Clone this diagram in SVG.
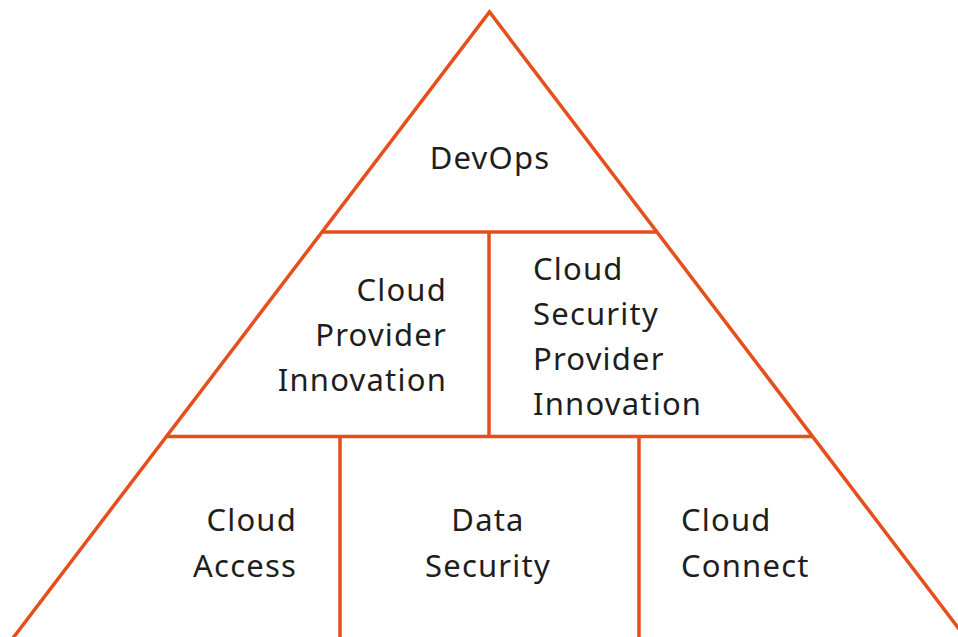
<svg xmlns="http://www.w3.org/2000/svg" width="958" height="637" viewBox="0 0 958 637">
  <style>
    .edge { fill: none; stroke: #E64E1C; stroke-width: 3.5; stroke-linecap: butt; stroke-linejoin: miter; }
    .label { font-family: "Noto Sans", "Open Sans", sans-serif; font-size: 31px; fill: #1e1e1e; letter-spacing: 1.2px; }
    .mid { text-anchor: middle; }
    .end { text-anchor: end; }
  </style>
  <rect width="958" height="637" fill="#ffffff"/>
  <g id="connectors">
    <polyline class="edge" points="11.5,640 489.5,12 967.5,640"/>
    <line class="edge" x1="322" y1="232" x2="657" y2="232"/>
    <line class="edge" x1="166" y1="436.5" x2="813" y2="436.5"/>
    <line class="edge" x1="489" y1="232" x2="489" y2="436.5"/>
    <line class="edge" x1="340" y1="436.5" x2="340" y2="640"/>
    <line class="edge" x1="639" y1="436.5" x2="639" y2="640"/>
  </g>
  <g id="devops">
    <text class="label mid" x="490" y="169">DevOps</text>
  </g>
  <g id="cloud-provider-innovation">
    <text class="label end" x="447" y="301">Cloud</text>
    <text class="label end" x="447" y="346">Provider</text>
    <text class="label end" x="447" y="391">Innovation</text>
  </g>
  <g id="cloud-security-provider-innovation">
    <text class="label" x="533" y="280">Cloud</text>
    <text class="label" x="533" y="325">Security</text>
    <text class="label" x="533" y="370">Provider</text>
    <text class="label" x="533" y="415">Innovation</text>
  </g>
  <g id="cloud-access">
    <text class="label end" x="297" y="531">Cloud</text>
    <text class="label end" x="297" y="577">Access</text>
  </g>
  <g id="data-security">
    <text class="label mid" x="488" y="531">Data</text>
    <text class="label mid" x="488" y="577">Security</text>
  </g>
  <g id="cloud-connect">
    <text class="label" x="681" y="531">Cloud</text>
    <text class="label" x="681" y="577">Connect</text>
  </g>
</svg>
